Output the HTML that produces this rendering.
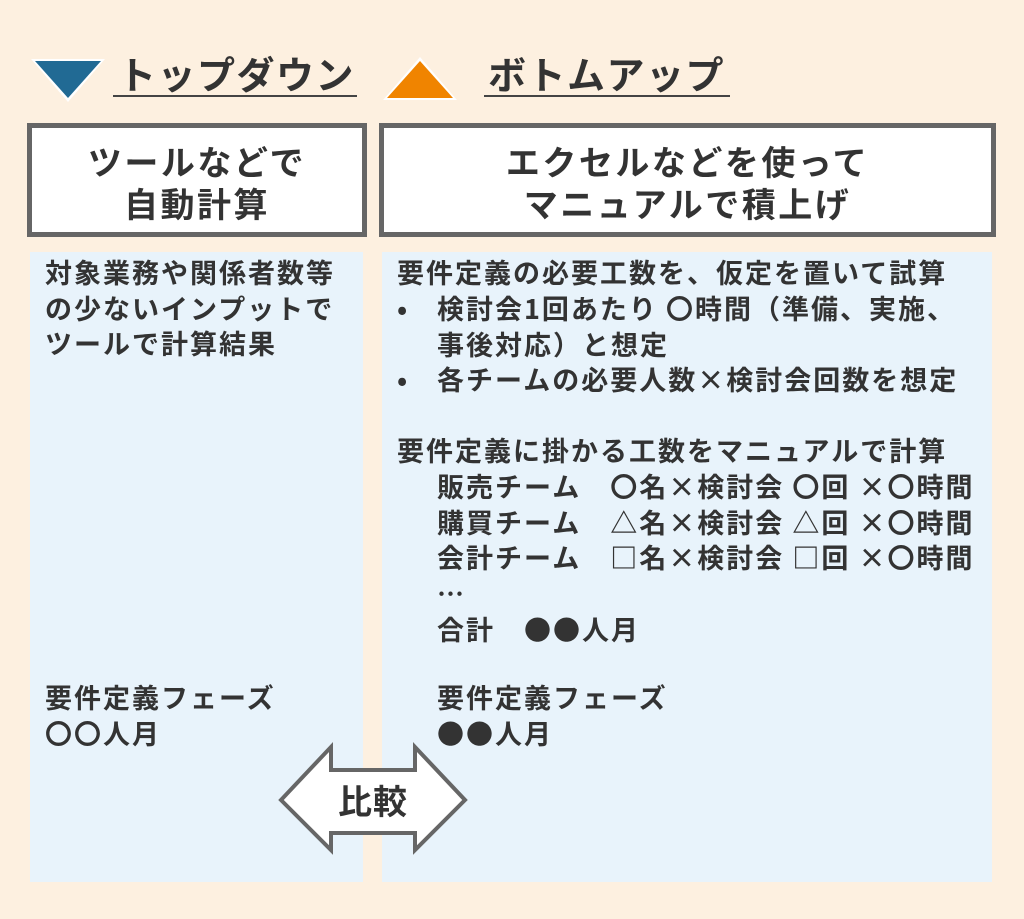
<!DOCTYPE html>
<html><head><meta charset="utf-8"><style>
body{margin:0;width:1024px;height:919px;background:#fdf0e0;position:relative;overflow:hidden;font-family:"Noto Sans CJK JP","Liberation Sans",sans-serif;color:#333;font-weight:bold}
.a{position:absolute;white-space:nowrap}
.box{position:absolute;background:#fff;border:5px solid #666;box-sizing:border-box;text-align:center;font-size:34px;line-height:42px;padding-top:12px;letter-spacing:2.5px}
.pan{position:absolute;background:#e8f3fb;top:252px;height:630px}
.t{font-size:27px;line-height:35.5px;letter-spacing:2px}
.h{font-size:38px;border-bottom:2px solid #444;line-height:44px;letter-spacing:1.5px}
</style></head><body>
<svg class="a" style="left:0;top:0" width="1024" height="919">
<polygon points="31,59 105,59 68,102" fill="#fff"/>
<polygon points="35,61 101,61 68,98" fill="#216a94"/>
<polygon points="383,100 457,100 420,57" fill="#fff"/>
<polygon points="387,98 453,98 420,61" fill="#f08400"/>
</svg>
<div class="a h" style="left:113px;top:51px;width:244px;padding-left:5px;box-sizing:border-box">トップダウン</div>
<div class="a h" style="left:484px;top:51px;width:246px;padding-left:4px;box-sizing:border-box">ボトムアップ</div>
<div class="box" style="left:27px;top:123px;width:340px;height:114px">ツールなどで<br>自動計算</div>
<div class="box" style="left:379px;top:123px;width:617px;height:114px">エクセルなどを使って<br>マニュアルで積上げ</div>
<div class="pan" style="left:30px;width:333px"></div>
<div class="pan" style="left:382px;width:610px"></div>
<div class="a t" style="left:45px;top:254px">対象業務や関係者数等<br>の少ないインプットで<br>ツールで計算結果</div>
<div class="a t" style="left:45px;top:679px">要件定義フェーズ<br>〇〇人月</div>
<div class="a t" style="left:397px;top:254px">要件定義の必要工数を、仮定を置いて試算</div>
<div class="a t" style="left:397px;top:290px">•</div>
<div class="a t" style="left:437px;top:290px">検討会1回あたり 〇時間（準備、実施、<br>事後対応）と想定</div>
<div class="a t" style="left:397px;top:361px">•</div>
<div class="a t" style="left:437px;top:361px">各チームの必要人数×検討会回数を想定</div>
<div class="a t" style="left:397px;top:432px">要件定義に掛かる工数をマニュアルで計算</div>
<div class="a t" style="left:437px;top:468px">販売チーム　〇名×検討会 〇回 ×〇時間<br>購買チーム　△名×検討会 △回 ×〇時間<br>会計チーム　□名×検討会 □回 ×〇時間<br>…</div>
<div class="a t" style="left:437px;top:611px">合計　●●人月</div>
<div class="a t" style="left:437px;top:679px">要件定義フェーズ<br>●●人月</div>
<svg class="a" style="left:0;top:0" width="1024" height="919">
<polygon points="281,800 331,747 331,770 415,770 415,747 465,800 415,850 415,833 331,833 331,850" fill="#fff" stroke="#666" stroke-width="4" stroke-linejoin="miter"/>
</svg>
<div class="a" style="left:330px;top:778px;width:86px;text-align:center;font-size:34px;line-height:44px;letter-spacing:1px">比較</div>
</body></html>
